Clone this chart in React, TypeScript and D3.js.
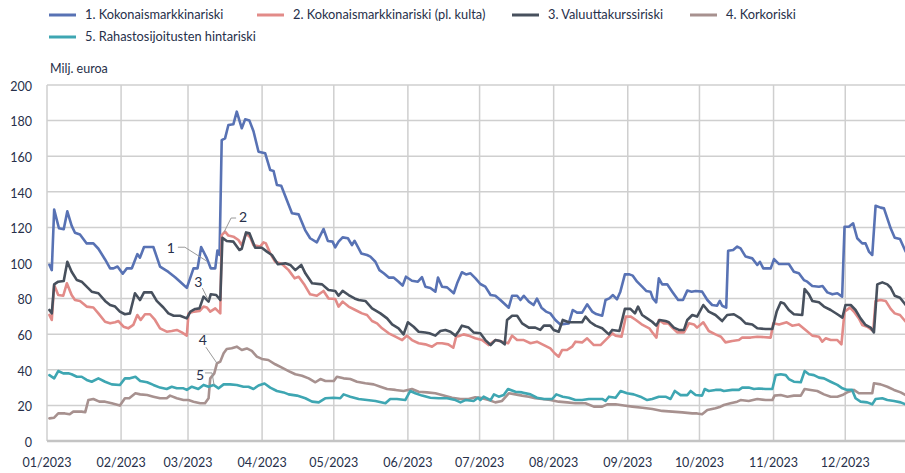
import React from "react";
import * as d3 from "d3";

const W = 905, H = 473;
const X0 = 47, X1 = 905, YT = 85, YB = 441;

// day offsets from 1 Jan 2023 and values (Milj. euroa)
const s1Days = [1,2,3,5,7,8.5,10.3,11.7,13.8,16.6,19.4,21.5,24.3,26.4,27.8,29.5,31.7,33.4,35.5,37.8,38.9,40.6,44.5,47.3,50.8,53.6,55.7,58.5,61.3,63,64.5,66.9,68.5,70.4,71.3,72.2,73.1,74.5,75.9,78,79.4,81.5,82.9,84.7,86.4,88.5,91.3,93.4,94.8,96.2,98,102.5,105.3,108,110.1,112.9,115.7,117.5,119.5,120.6,122,123.7,125.9,127.6,128.7,131.5,133.9,135.3,137.4,139.1,140.9,143,145,147.1,148.8,150.2,152.7,155.2,156.9,158.3,160.4,162.5,163.6,165.3,167.4,170.2,171.6,173.6,175.3,177.2,179.3,181.3,183.4,185.6,187.6,189.7,193.2,194.6,196.7,198.1,199.5,201.6,203.6,205,206.9,208.8,210.6,212.7,214.8,218.3,220,221.8,223.9,226,228.1,229.8,232.3,233.7,235.3,236.8,238.5,239.9,241.8,243.7,245.1,246.9,249,250.7,252.5,253.5,254.9,256,257.4,259.5,261.6,264.1,266.1,267.9,269.7,271.4,274.1,276.3,278.3,280.4,281.5,282.5,284.2,285,287.1,288.8,290.2,292.3,295.1,297.2,298.3,299.7,302.8,304.2,306.3,310.4,312.5,314.6,316.7,318.1,320.2,323,324.5,326.5,328.6,330.7,332.7,333.7,335.5,337.3,339,341.1,342.5,343.9,345.3,346.7,348.8,350.2,353,354.7,356.9,359.3];
const s1Values = [99,96,130,119.5,119,129,121,117,116,111,111,108,102,97,97,98,94,97,97,105,103,109,109,98,95,92,89.5,86,97,97,109,102.6,97,97,107,104.5,169,170,177.5,178,185,175.7,180.7,180,174,162.5,161.6,152.2,151.7,143.8,143.4,127.9,127.3,118.5,113.9,111.6,119.1,112.4,112,108.8,112,114.4,113.9,110,112.5,105.4,104.5,103.6,100.7,96,94.2,91.8,91.8,89.5,87.3,92.3,90,89.5,92,86.7,86,83.9,91.8,86.7,86.3,83,88.6,94.8,93.6,94.2,91.4,88.2,86.7,82,81.6,79.2,74.9,81.6,81.6,79.2,81.6,78.3,76.4,80,74.9,72.7,71.7,68,65.5,66.1,73.6,72.1,72.1,76.8,72.7,71.3,70.4,79.2,80.1,82,79.6,83.9,93.6,93.6,92.9,89.5,86.7,84.3,83.9,80.1,77.9,91.4,88,88,83.9,79.2,79.2,84.5,83.9,84.3,83.9,79.2,76.4,76,78.7,76,74.9,106.9,107.3,109.2,108.2,103.6,102.6,98.9,100.7,97,97,102.2,99.4,99.4,95.1,94.2,90.4,89.5,87.1,86.7,87.1,83.5,82.4,83,81.1,120.4,120.4,122.3,113.9,111,111,106.4,104.5,132.2,131.1,130.7,119.5,114.2,113.5,106.4];

const s2Days = [1,2,3,4.7,6.8,8.3,10.3,11.7,13.8,16.6,19.4,21.5,24.3,26.4,28.5,29.9,32,34,36.1,37.8,39.2,41,43.1,45.2,47.3,50.1,52.2,54.3,56.4,58.5,59.2,61.6,63.8,65.5,66.9,68.3,70.4,72.5,73.1,74.5,75.9,78,80.1,81.5,83.3,85,86.4,89.2,90.6,91.6,93.4,95.5,98.3,101.1,103.6,105.3,107.8,110.1,112.9,115.7,117.8,120.6,122,123.7,126.2,129,131.8,133.9,136,138.1,140.2,143,145.8,148.6,150.6,152.7,155.5,158.3,161.1,163.2,165.3,167.9,170,171.2,172.9,174.3,176.4,179.2,182,184.8,187.6,190.4,192.9,194.6,196.7,199.5,202.3,205,207.9,210.6,212.4,214.1,215.5,217.6,219.7,221.1,223.9,226,228.8,231.6,234.4,236.5,237.9,240.4,242.2,244.3,246.4,249.2,252,253.3,255,256,258.1,260,261.6,263.7,266.5,268.6,270.7,272,274.6,276.9,279.7,282,283.9,286.7,289.5,290.9,294.4,297.2,302.8,303.9,306.3,309.5,311.8,314.6,317.4,320.2,323,324.4,325.8,327.9,330.7,332.4,333.7,336,337.6,339.7,341.1,343.2,345.7,346.7,348.8,350.9,353,354.7,356.9,359.3];
const s2Values = [70.8,68,87.6,82,81.6,88.6,82,79.2,78.7,75.5,75,71.7,67,66.1,66.7,67.4,64.2,63.3,65.2,70.8,68,71.2,71.2,68,63.3,61.4,61.8,62.4,61,59.2,71.7,72.7,73,75.5,75,72.7,74.5,71.7,115.7,117.6,115.4,114.8,112.9,110,116.7,114.5,110,109.2,111.6,111,105.4,100.7,99.4,96,91.4,92.3,87.6,82.4,81.6,84.3,80.1,79.8,75.5,78.3,75.5,73.6,71.7,70.8,67.4,66.1,63.3,60.5,58.6,56.7,59.2,56.7,54.9,54.3,53,54.9,54.9,54.3,52.4,58.6,59.2,59.9,59.2,57.7,56.7,53.9,56.7,55.8,54.9,59.2,56.7,56.7,54.9,55.8,53.9,52,49.3,47.4,51.1,51.1,53,55.8,55.4,57.7,53.9,53.9,57.7,60.5,59.2,58.6,69.9,69.9,68,65.2,63.3,61,58.1,68,66.1,66.1,63.7,61,61,66.1,65.5,63.7,66.7,61.8,59.9,58.6,55.4,56.2,56.7,58.1,58.1,58.6,58.1,66.1,65.5,66.7,64.8,65.5,62.4,59.2,58.6,55.8,57.7,56.7,56.7,54.3,72.7,74.9,72.7,68.9,65.2,64.2,61.8,78.7,79.2,78.7,74.2,71.7,70.8,67];

const s3Days = [1,2,3,4.7,7,8.5,10.3,12.5,14.5,16.6,18.7,21.5,24.3,26.4,28.5,30.5,32.6,34.7,36.8,38.9,40.6,43.8,45.9,48.7,50.8,53,55.7,58.5,60,62,63.8,65.5,67.6,68.5,70.8,72.5,73.4,75.2,78,80.5,81.5,83.3,84.7,86.4,87.1,89.9,92,94.1,96.6,99.7,101.8,103.9,106.4,108.1,110.9,115.1,117.8,120.6,122,123.7,126.2,128.7,130.4,133.2,136,139.5,142.3,144.4,147.1,149.2,151,153.4,155.5,158.3,160,162.5,164.6,166.7,168.8,170.9,172.3,173.6,176.4,178.5,181.3,183.4,185.6,187.6,189.7,191.5,192.5,194.6,196.7,198.8,201.6,204.3,206.4,207.9,210.6,212,214.1,215.8,218.3,221.1,223.9,225.3,227.4,229.5,232.3,235.1,236.5,239.5,241.8,244.1,246,247.3,249,251.1,253.2,254.9,256.3,258.8,260.2,262.3,264.4,266.5,267.9,270,272,274.6,276.9,279.7,282.5,284.6,287.4,290.2,292.3,295.1,297.2,300.7,303.5,305.3,307,308.4,310.4,312.5,316,317,318.8,320.2,323,325.1,327.9,330.7,332.8,334.1,336.3,338.3,340.4,342.5,344.6,346,347.4,349.5,351.6,353,354.7,356.9,359.3];
const s3Values = [73.6,71.7,88,89.5,89.9,100.7,95.1,90.4,89.5,86.7,83.9,83,78.7,76.4,75.5,72.7,71.2,71.7,83,79.2,83.5,83.5,78.7,75,71.7,70.4,70.4,68.9,72.7,74.2,74.5,81.1,78.3,82.4,82,79.2,114.2,112.4,112,107.3,108,117.2,116.7,111,108.6,108.6,106.4,104.5,99.3,99.8,98.9,96,98.9,94.2,88.6,88,84.8,84.3,81.6,84.3,82,80.1,79.2,78.7,74.5,71.7,68.9,65.5,63.3,59.9,66.7,64.2,61.4,61,60.5,59.2,61.8,62.4,61.4,59.2,61.8,64.8,63.7,61,60.5,56.7,53.9,56.7,56.2,54.3,68,70.4,70.4,66.1,63.7,63.7,62.4,64.8,64.8,62.4,61.4,68,66.7,66.7,66.7,69.9,66.7,64.8,63.3,59.9,62.4,61.8,74.2,74.2,71.7,75.5,70.8,68.9,67,64.8,68,67.4,66.7,63.7,62.4,62.4,68,70.8,69.9,76.4,72.7,70.8,67.4,70.8,71.2,68.9,66.1,65.5,63.3,62.9,62.9,72.7,77.9,77.3,73.6,71.2,70.8,85.4,82.4,78.7,77.9,75.5,73.6,71.2,69.3,76.4,76.4,73.6,68.9,65.2,63.7,61,88,89.1,88,86.1,81.6,80.5,76.4];

const s4Days = [1,3,4.7,7.5,9.5,11,14.5,16,17.3,19.4,21.9,24.3,27.1,30.5,32.6,34.4,37,39,41.9,44.5,47.3,50.1,51.5,54.3,57.1,59.2,61.3,64.1,66.1,67.6,68.3,70,71.1,72.5,73.9,75.2,77.3,79.4,81.5,83.6,85.7,87.8,89.9,92.6,95.5,98.3,101.1,103.9,106.7,109.5,112.3,114.4,116.5,120,121.3,124.1,126.9,129.7,133.2,136.7,139.5,142.3,145.8,149.2,152.7,155.5,159,162.5,166,169.5,173,176.4,179.2,181.3,184.8,187.6,190.4,193.2,196,198.8,201.6,204.3,207.1,210.6,214.1,217.6,221.1,225.3,228.8,232.3,234.4,237.9,241.4,244.9,249.1,253.3,257.4,261.6,265.8,270,272,274.1,276.3,279.7,281.8,283.2,286,288.8,290.2,293.6,297.2,300.7,303.5,304.4,307,309.8,312.5,315.4,317,319.5,322.3,325.1,327.9,330.7,332.8,334.8,337.6,339.7,342.5,345.3,346,348.8,351.6,354.4,357.2,359.3];
const s4Values = [12.7,13.1,15.5,15.5,15,16.5,16.5,16.2,23,23.6,22.1,22.1,21.2,19.9,24,24,26.8,26.2,25.8,24.9,24,24,25.5,24,23,23,22.1,21.2,21.2,24,35.2,38,43.6,44.6,49.3,51.7,52.1,53,51.1,52,50.6,47.4,46.1,45.5,43.1,41.2,39.3,37.5,36.7,35.2,33,34.8,33.7,33.7,36.1,35.2,34.8,33.3,32.4,31.8,30.5,29.2,28.7,28.1,29.2,27.7,27.3,26.8,25.5,24.3,23.6,23.6,24.6,24.3,23,21.7,22.5,26.8,26.2,25.5,24.9,24,23.6,23,22.1,21.7,21.2,21.2,19.3,19.3,20.6,20.6,19.9,19.3,18.7,18,16.9,16.5,16.1,15.5,15.5,15,17.4,18.4,19.3,20.2,21.2,22.1,23,22.5,23.6,23,23,25.5,25.8,24.9,25.5,25.5,29.2,28.7,28.1,26.2,24.9,24.9,25.8,27.3,28.7,26.8,26.8,26.8,32.4,31.8,30.5,28.7,27.3,25.8];

const s5Days = [1,3,4.7,6.8,8.9,10.3,12.5,14.5,16.6,18.7,21.5,24.3,27.1,30.5,32.6,34.7,37,39,41.9,44.5,47.3,50.1,52.2,54.3,57.1,58.5,60.6,63.3,65.5,67.6,69.7,71.8,73.9,76.6,79.4,82.2,84.3,86.4,88.5,91,93.4,96.2,99,101.1,104.6,108.1,110.9,113.7,116.4,119.9,122.7,124.1,126.9,130.4,133.9,137.4,141.6,143.6,146.4,149.9,152,154.1,156.9,160.4,163.9,167.4,170.9,173,175.1,178.5,180.4,181.3,182.7,185.6,187,189,191.1,192.9,196,198.8,202.3,205,207.9,211.4,213.1,215.8,218.3,221.1,223.9,226.7,232.3,233.7,235.1,237.9,240,242.7,245.5,248.3,251.1,253.2,256,258.8,260.9,262.7,265.1,267.9,269.3,271.4,274.1,275.2,276.9,279.7,282,283.2,286.7,289.5,290.9,293.6,295.8,297.8,300.7,303.5,304.9,307,309.1,310.4,312.5,315.4,317,318.8,320.9,323,325.1,327.9,330.7,332.8,334.8,336.9,338.3,340.4,343.2,345.3,346.7,349.5,351.6,354.4,357.2,359.3];
const s5Values = [37,35.2,39.3,38,38,37.5,36.1,36.1,34.3,33.3,35.2,33.3,31.8,31.5,35.2,35.2,36.1,33.7,33,31.5,30,29.2,30.5,29.6,29.6,28.7,30.5,29.2,31.5,30.5,31.5,29.6,31.8,31.8,31.5,30.5,30.5,29.2,31.2,32.3,30,28.1,27.3,26.2,25.5,24,22.1,21.7,24,24.3,24,26.2,24.9,23.6,23,22.5,21.2,23.6,23.6,23,28.1,26.8,25.5,24.3,24,24,23,21.7,23,22.5,24.3,23,24.9,23,26.2,24.9,25.8,29.2,27.7,27.3,26.2,24.3,23.6,23.6,26.2,24.9,24.3,23,23,23.6,23.6,22.5,24.9,24.3,28.1,26.8,26.2,24.9,23,23.6,24.9,24.9,23.6,28.1,25.8,25.8,28.1,25.8,25.5,29.2,28.1,28.7,28.7,28.1,28.7,28.7,30,30,29.2,29.5,29.2,29.2,37,37.5,37,34.8,33.3,33,39.3,37.5,37,35.6,35.2,33.3,31.5,29.6,28.7,28.7,24,22.1,21.7,20.6,23.6,24,23,22.5,21.7,20.6];

const seriesNames = [
  "1. Kokonaismarkkinariski",
  "2. Kokonaismarkkinariski (pl. kulta)",
  "3. Valuuttakurssiriski",
  "4. Korkoriski",
  "5. Rahastosijoitusten hintariski",
];
const seriesColors = ["#5872b4", "#e28b88", "#47505d", "#a7918f", "#3ea6b2"];
const yTicks = [0, 20, 40, 60, 80, 100, 120, 140, 160, 180, 200];
const monthLabels = ["01/2023","02/2023","03/2023","04/2023","05/2023","06/2023","07/2023","08/2023","09/2023","10/2023","11/2023","12/2023"];

// annotations: anchor in data coords (day, value), then pixel offsets
const annotations = [
  { label: "1", day: 66.9, value: 101, path: [[0, 0], [-22, -14], [-29, -14]], tx: -36, ty: -13 },
  { label: "2", day: 74.1, value: 117.4, path: [[0, 0], [7, -14], [12, -14]], tx: 19, ty: -15 },
  { label: "3", day: 67.5, value: 79.2, path: [[0, 0], [-6, -12]], tx: -10, ty: -18 },
  { label: "4", day: 71.1, value: 43.7, path: [[0, 0], [-11, -16]], tx: -14, ty: -23 },
  { label: "5", day: 69.9, value: 31.5, path: [[0, 0], [-2, -12], [-9, -12]], tx: -14, ty: -10 },
];

const legendPos = [
  { x: 49, y: 15 }, { x: 257, y: 15 }, { x: 512, y: 15 }, { x: 690, y: 15 }, { x: 49, y: 37 },
];

const BASE = new Date(2023, 0, 1).getTime();
const toDate = (d: number) => new Date(BASE + d * 86400000);

const FONT = "Lato, 'Open Sans', sans-serif";
const TEXT = "#27304a";

export default function App() {
  const x = d3.scaleTime().domain([new Date(2023, 0, 1), new Date(2023, 11, 26)]).range([X0, X1]);
  const y = d3.scaleLinear().domain([0, 200]).range([YB, YT]);
  const months = d3.timeMonth.range(new Date(2023, 0, 1), new Date(2024, 0, 1));

  const allDays = [s1Days, s2Days, s3Days, s4Days, s5Days];
  const allVals = [s1Values, s2Values, s3Values, s4Values, s5Values];
  const line = d3.line<[Date, number]>().x((d) => x(d[0])).y((d) => y(d[1]));

  return (
    <svg width={W} height={H} style={{ position: "absolute", left: 0, top: 0, background: "#fff" }} fontFamily={FONT}>
      {/* legend */}
      {seriesNames.map((n, i) => (
        <g key={n} transform={`translate(${legendPos[i].x},${legendPos[i].y})`}>
          <line x1={0} x2={27} y1={0} y2={0} stroke={seriesColors[i]} strokeWidth={3} />
          <text x={36} y={0} dy="0.35em" fontSize={12.8} fill={TEXT}>{n}</text>
        </g>
      ))}
      <text x={50} y={69} dy="0.35em" fontSize={12.5} fill={TEXT}>Milj. euroa</text>

      {/* horizontal grid */}
      {yTicks.filter((t) => t > 0).map((t) => (
        <line key={t} x1={X0} x2={X1} y1={y(t)} y2={y(t)} stroke="#cfcfcf" strokeWidth={1.5} />
      ))}
      {/* vertical grid */}
      {months.map((m) => (
        <line key={+m} x1={x(m)} x2={x(m)} y1={YT} y2={YB} stroke="#cfcfcf" strokeWidth={1.5} />
      ))}
      <line x1={X0} x2={X1} y1={YB} y2={YB} stroke="#c4c4c4" strokeWidth={2.5} />

      {/* y labels */}
      {yTicks.map((t) => (
        <text key={t} x={32} y={y(t) + 1.5} dy="0.35em" textAnchor="end" fontSize={12.5} fill={TEXT}>{t}</text>
      ))}
      {/* x labels */}
      {months.map((m, i) => (
        <text key={+m} x={x(m)} y={467} textAnchor="middle" fontSize={12.5} fill={TEXT}>{monthLabels[i]}</text>
      ))}

      {/* series */}
      {allDays.map((days, i) => {
        const pts = days.map((d, j) => [toDate(d), allVals[i][j]] as [Date, number]);
        return (
          <path key={i} d={line(pts) || ""} fill="none" stroke={seriesColors[i]} strokeWidth={2.6} strokeLinejoin="round" strokeLinecap="round" />
        );
      })}

      {/* annotations */}
      {annotations.map((a) => {
        const ax = x(toDate(a.day));
        const ay = y(a.value);
        const pts = a.path.map((p) => `${ax + p[0]},${ay + p[1]}`).join(" ");
        return (
          <g key={a.label}>
            <polyline points={pts} fill="none" stroke="#9a9a9a" strokeWidth={1} />
            <text x={ax + a.tx} y={ay + a.ty} dy="0.35em" textAnchor="middle" fontSize={14} fill={TEXT}>{a.label}</text>
          </g>
        );
      })}
    </svg>
  );
}
